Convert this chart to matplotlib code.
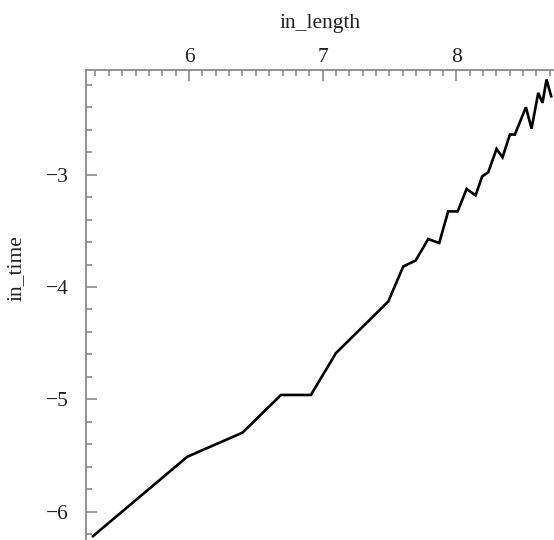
import matplotlib
matplotlib.use("Agg")
import matplotlib.pyplot as plt
from matplotlib.ticker import MultipleLocator

# values (log length vs log time)
in_length = [5.282, 5.987, 6.399, 6.688, 6.912, 7.099, 7.491, 7.603, 7.696, 7.790,
             7.872, 7.939, 8.010, 8.077, 8.144, 8.194, 8.239, 8.301, 8.346, 8.401,
             8.438, 8.521, 8.563, 8.613, 8.645, 8.675, 8.710]
in_time = [-6.217, -5.511, -5.297, -4.961, -4.961, -4.589, -4.129, -3.817, -3.764, -3.573,
           -3.609, -3.327, -3.327, -3.127, -3.184, -3.015, -2.979, -2.771, -2.846, -2.643,
           -2.643, -2.400, -2.590, -2.272, -2.361, -2.153, -2.302]

x_ticks = [6, 7, 8]
y_ticks = [-6, -5, -4, -3]

plt.rcParams["font.family"] = ["Liberation Serif", "DejaVu Serif"]

fig = plt.figure(figsize=(5.54, 5.40), dpi=100)
ax = fig.add_axes([85.7 / 554, 0.0, 1 - 85.7 / 554, 1 - 69.5 / 540])

ax.plot(in_length, in_time, color="black", lw=1.9, solid_joinstyle="miter")

ax.set_xlim(5.227, 8.731)
ax.set_ylim(-6.252, -2.064)

ax.xaxis.tick_top()
ax.xaxis.set_label_position("top")
ax.set_xticks(x_ticks)
ax.set_yticks(y_ticks)
ax.xaxis.set_minor_locator(MultipleLocator(0.1))
ax.yaxis.set_minor_locator(MultipleLocator(0.2))

grey = "#8a8a8a"
for side in ("right", "bottom"):
    ax.spines[side].set_visible(False)
for side in ("top", "left"):
    ax.spines[side].set_color(grey)
    ax.spines[side].set_linewidth(1.3)

ax.tick_params(axis="both", which="major", direction="in", length=8, width=1.2,
               color=grey, labelsize=15.5, labelcolor="#222222")
ax.tick_params(axis="both", which="minor", direction="in", length=4.5, width=1.2, color=grey)
ax.tick_params(axis="x", which="major", pad=2)
ax.tick_params(axis="y", which="major", pad=12)

ax.set_xlabel("in_length", fontsize=15.5, color="#222222")
ax.set_ylabel("in_time", fontsize=15.5, color="#222222")
ax.xaxis.set_label_coords(0.5, 1.088)
ax.yaxis.set_label_coords(-0.128, 0.578)

fig.savefig("out.png", dpi=100, facecolor="white")
